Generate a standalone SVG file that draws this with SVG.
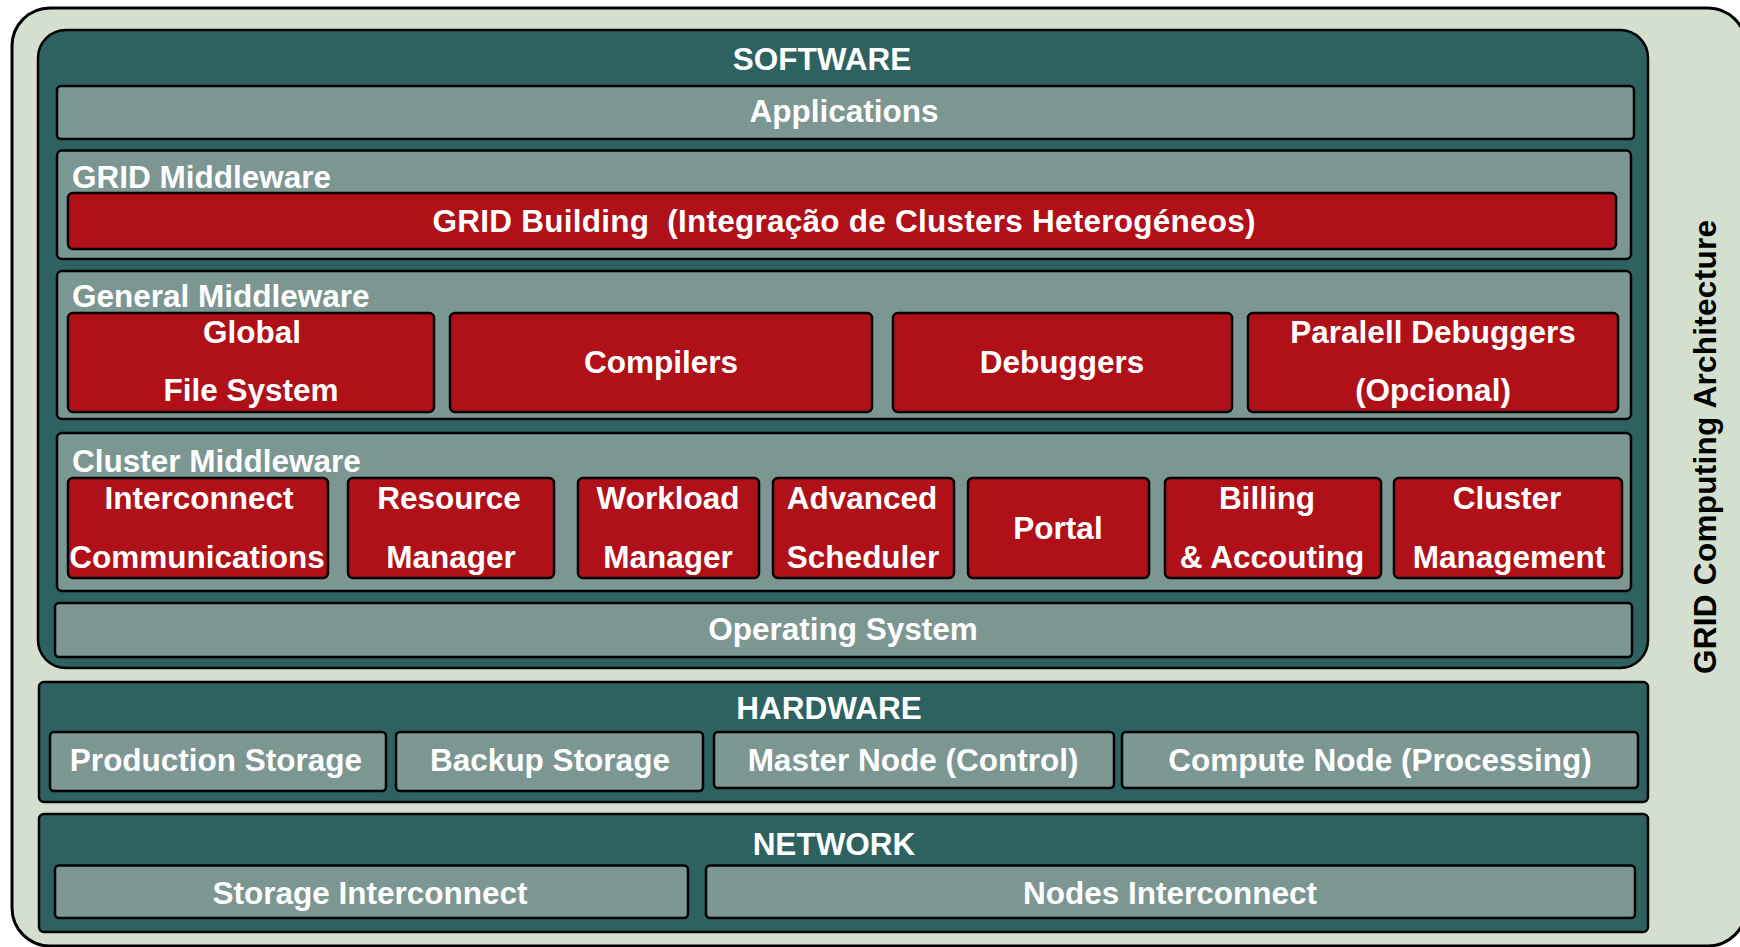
<svg xmlns="http://www.w3.org/2000/svg" width="1740" height="947" viewBox="0 0 1740 947">
<style>
.bg{fill:#D4DFD0;stroke:#000;stroke-width:3}
.dk{fill:#2D6261;stroke:#000;stroke-width:2.5}
.md{fill:#7C9692;stroke:#000;stroke-width:2.5}
.rd{fill:#B01018;stroke:#000;stroke-width:2.5}
text{font-family:"Liberation Sans",Arial,sans-serif;font-weight:bold;font-size:31.5px;fill:#fff}
.c{text-anchor:middle}
.blk{fill:#000}
</style>
<rect class="bg" x="12" y="8" width="1734" height="938" rx="38"/>
<g id="software">
<rect class="dk" x="38" y="30" width="1610" height="638" rx="28"/>
<text class="c" x="822" y="70">SOFTWARE</text>
</g>
<g id="applications">
<rect class="md" x="57" y="86" width="1577" height="53" rx="4"/>
<text class="c" x="844" y="122">Applications</text>
</g>
<g id="grid-middleware">
<rect class="md" x="57" y="150.5" width="1574" height="108.5" rx="5"/>
<text x="72" y="188">GRID Middleware</text>
</g>
<g id="grid-building">
<rect class="rd" x="68" y="193" width="1548" height="56" rx="5"/>
<text class="c" x="844" y="232" xml:space="preserve" textLength="823" lengthAdjust="spacing">GRID Building  (Integração de Clusters Heterogéneos)</text>
</g>
<g id="general-middleware">
<rect class="md" x="57" y="271" width="1574" height="148" rx="5"/>
<text x="72" y="307">General Middleware</text>
</g>
<g id="global-fs">
<rect class="rd" x="68" y="313" width="366" height="99" rx="5"/>
<text class="c" x="252" y="343">Global</text>
<text class="c" x="251" y="401">File System</text>
</g>
<g id="compilers">
<rect class="rd" x="450" y="313" width="422" height="99" rx="5"/>
<text class="c" x="661" y="373">Compilers</text>
</g>
<g id="debuggers">
<rect class="rd" x="893" y="313" width="339" height="99" rx="5"/>
<text class="c" x="1062" y="373">Debuggers</text>
</g>
<g id="parallel-debuggers">
<rect class="rd" x="1248" y="313" width="370" height="99" rx="5"/>
<text class="c" x="1433" y="343">Paralell Debuggers</text>
<text class="c" x="1433" y="401">(Opcional)</text>
</g>
<g id="cluster-middleware">
<rect class="md" x="57" y="433" width="1574" height="158" rx="5"/>
<text x="72" y="472">Cluster Middleware</text>
</g>
<g id="interconnect">
<rect class="rd" x="68" y="478" width="260" height="100" rx="5"/>
<text class="c" x="199" y="509">Interconnect</text>
<text class="c" x="197" y="568">Communications</text>
</g>
<g id="resource-manager">
<rect class="rd" x="348" y="478" width="206" height="100" rx="5"/>
<text class="c" x="449" y="509">Resource</text>
<text class="c" x="451" y="568">Manager</text>
</g>
<g id="workload-manager">
<rect class="rd" x="578" y="478" width="181" height="100" rx="5"/>
<text class="c" x="668" y="509">Workload</text>
<text class="c" x="668" y="568">Manager</text>
</g>
<g id="advanced-scheduler">
<rect class="rd" x="773" y="478" width="181" height="100" rx="5"/>
<text class="c" x="862" y="509">Advanced</text>
<text class="c" x="863" y="568">Scheduler</text>
</g>
<g id="portal">
<rect class="rd" x="968" y="478" width="181" height="100" rx="5"/>
<text class="c" x="1058" y="539">Portal</text>
</g>
<g id="billing">
<rect class="rd" x="1165" y="478" width="216" height="100" rx="5"/>
<text class="c" x="1267" y="509">Billing</text>
<text class="c" x="1272" y="568">&amp; Accouting</text>
</g>
<g id="cluster-management">
<rect class="rd" x="1394" y="478" width="228" height="100" rx="5"/>
<text class="c" x="1507" y="509">Cluster</text>
<text class="c" x="1509" y="568">Management</text>
</g>
<g id="operating-system">
<rect class="md" x="55" y="603" width="1577" height="54" rx="4"/>
<text class="c" x="843" y="640">Operating System</text>
</g>
<g id="hardware">
<rect class="dk" x="39" y="682" width="1609" height="120" rx="5"/>
<text class="c" x="829" y="719">HARDWARE</text>
</g>
<g id="production-storage">
<rect class="md" x="50" y="732" width="336" height="59" rx="4"/>
<text class="c" x="216" y="771">Production Storage</text>
</g>
<g id="backup-storage">
<rect class="md" x="396" y="732" width="307" height="59" rx="4"/>
<text class="c" x="550" y="771">Backup Storage</text>
</g>
<g id="master-node">
<rect class="md" x="714" y="732" width="400" height="56" rx="4"/>
<text class="c" x="913" y="771">Master Node (Control)</text>
</g>
<g id="compute-node">
<rect class="md" x="1122" y="732" width="516" height="56" rx="4"/>
<text class="c" x="1380" y="771">Compute Node (Processing)</text>
</g>
<g id="network">
<rect class="dk" x="39" y="814" width="1609" height="118" rx="5"/>
<text class="c" x="834" y="855">NETWORK</text>
</g>
<g id="storage-interconnect">
<rect class="md" x="55" y="865.5" width="633" height="52.5" rx="4"/>
<text class="c" x="370" y="904">Storage Interconnect</text>
</g>
<g id="nodes-interconnect">
<rect class="md" x="706" y="865.5" width="929" height="52.5" rx="4"/>
<text class="c" x="1170" y="904">Nodes Interconnect</text>
</g>
<g id="grid-architecture-label">
<text class="c blk" transform="translate(1716 447) rotate(-90)" textLength="454" lengthAdjust="spacing">GRID Computing Architecture</text>
</g>
<g id="connectors"></g>
</svg>
